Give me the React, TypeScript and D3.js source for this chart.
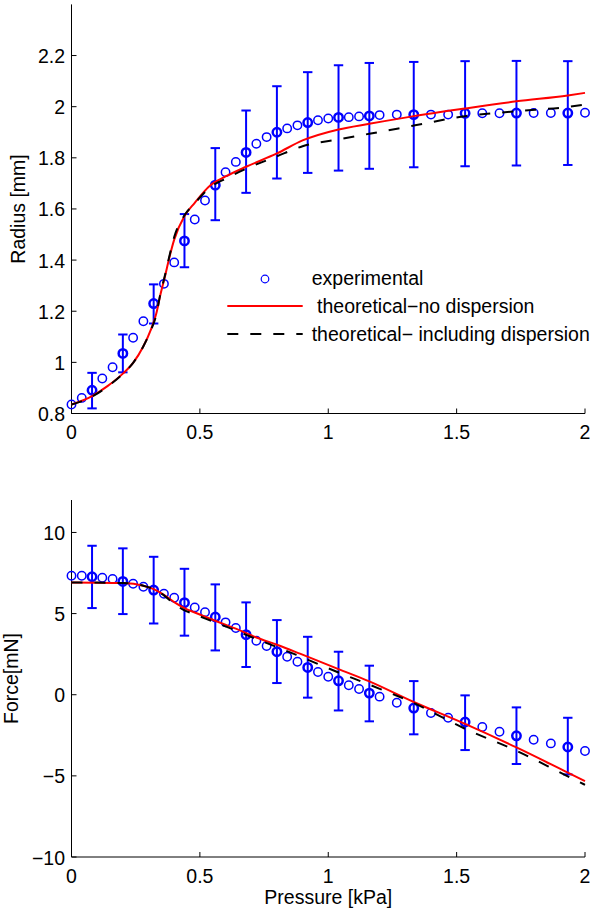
import React from "react";
import * as d3 from "d3";

// ---- data ----
const pressure = [0, 0.04, 0.08, 0.12, 0.16, 0.2, 0.24, 0.28, 0.32, 0.36, 0.4, 0.44, 0.48, 0.52, 0.56, 0.6, 0.64, 0.68, 0.72, 0.76, 0.8, 0.84, 0.88, 0.92, 0.96, 1, 1.04, 1.08, 1.12, 1.16, 1.2, 1.267, 1.333, 1.4, 1.467, 1.533, 1.6, 1.667, 1.733, 1.8, 1.867, 1.933, 2];
const radiusExp = [0.835, 0.861, 0.891, 0.937, 0.981, 1.035, 1.096, 1.161, 1.23, 1.307, 1.391, 1.475, 1.559, 1.633, 1.693, 1.744, 1.784, 1.821, 1.855, 1.881, 1.9, 1.915, 1.927, 1.938, 1.947, 1.954, 1.958, 1.959, 1.962, 1.964, 1.967, 1.969, 1.969, 1.969, 1.969, 1.974, 1.974, 1.974, 1.975, 1.975, 1.975, 1.975, 1.976];
const forceExp = [7.33, 7.33, 7.27, 7.21, 7.13, 6.98, 6.84, 6.65, 6.45, 6.22, 5.98, 5.67, 5.38, 5.09, 4.79, 4.46, 4.11, 3.7, 3.33, 3.0, 2.65, 2.34, 2.03, 1.68, 1.4, 1.11, 0.86, 0.58, 0.35, 0.1, -0.12, -0.49, -0.82, -1.13, -1.42, -1.68, -1.99, -2.28, -2.53, -2.77, -3.0, -3.22, -3.47];

const errPressure = [0.08, 0.2, 0.32, 0.44, 0.56, 0.68, 0.8, 0.92, 1.04, 1.16, 1.333, 1.533, 1.733, 1.933];
const radiusErrHigh = [0.959, 1.109, 1.305, 1.58, 1.838, 1.985, 2.08, 2.135, 2.162, 2.171, 2.175, 2.178, 2.179, 2.178];
const radiusErrLow = [0.82, 0.961, 1.152, 1.372, 1.556, 1.663, 1.719, 1.741, 1.75, 1.757, 1.763, 1.767, 1.77, 1.772];
const forceErrHigh = [9.18, 9.02, 8.5, 7.76, 6.8, 5.69, 4.6, 3.57, 2.65, 1.79, 0.84, -0.04, -0.78, -1.42];
const forceErrLow = [5.34, 4.97, 4.39, 3.64, 2.73, 1.71, 0.72, -0.18, -0.97, -1.64, -2.44, -3.41, -4.27, -4.91];

const radiusCurveX = [0, 0.08, 0.14, 0.2, 0.24, 0.28, 0.31, 0.33, 0.345, 0.365, 0.38, 0.4, 0.44, 0.48, 0.54, 0.6, 0.68, 0.8, 0.9, 1.04, 1.16, 1.333, 1.533, 1.733, 1.933, 2.0];
const radiusNoDisp = [0.835, 0.868, 0.907, 0.956, 0.998, 1.063, 1.13, 1.19, 1.259, 1.34, 1.405, 1.48, 1.572, 1.624, 1.692, 1.727, 1.765, 1.817, 1.868, 1.911, 1.933, 1.963, 1.993, 2.021, 2.044, 2.054];
const radiusDisp = [0.835, 0.866, 0.905, 0.955, 0.998, 1.063, 1.128, 1.185, 1.262, 1.345, 1.41, 1.49, 1.575, 1.622, 1.685, 1.718, 1.757, 1.806, 1.845, 1.872, 1.894, 1.926, 1.963, 1.982, 1.999, 2.008];

const forceCurveX = [0, 0.2, 0.28, 0.32, 0.36, 0.4, 0.44, 0.48, 0.56, 0.64, 0.72, 0.8, 0.89, 1.04, 1.16, 1.333, 1.533, 1.733, 1.933, 2.0];
const forceNoDisp = [6.92, 6.88, 6.72, 6.51, 6.16, 5.71, 5.34, 5.07, 4.56, 4.07, 3.53, 3.08, 2.53, 1.58, 0.82, -0.45, -1.8, -3.25, -4.8, -5.32];
const forceDisp = [6.92, 6.88, 6.72, 6.5, 6.12, 5.6, 5.2, 4.95, 4.46, 3.96, 3.43, 2.94, 2.36, 1.37, 0.62, -0.51, -2.1, -3.45, -5.03, -5.55];

const xTicks = [0, 0.5, 1, 1.5, 2];
const xTickLabels = ["0", "0.5", "1", "1.5", "2"];
const radiusTicks = [0.8, 1, 1.2, 1.4, 1.6, 1.8, 2, 2.2];
const radiusTickLabels = ["0.8", "1", "1.2", "1.4", "1.6", "1.8", "2", "2.2"];
const forceTicks = [-10, -5, 0, 5, 10];
const forceTickLabels = ["\u221210", "\u22125", "0", "5", "10"];

const legendLabels = ["experimental", " theoretical\u2212no dispersion", "theoretical\u2212 including dispersion"];

const FONT = "'Liberation Sans', Arial, Helvetica, sans-serif";
const FS = 19.5;
const BLUE = "#0000ff";
const RED = "#ff0000";
const DASH = "11 12";

const x = d3.scaleLinear().domain([0, 2]).range([71.5, 585]);
const yTop = d3.scaleLinear().domain([0.8, 2.4]).range([413.5, 4.4]);
const yBot = d3.scaleLinear().domain([-10, 12]).range([857, 500]);

type Scale = d3.ScaleLinear<number, number>;

function Panel({ y, exp, errHigh, errLow, cx, noDisp, disp, yTicks, yLabels, yLabel, yLabelX }: {
  y: Scale; exp: number[]; errHigh: number[]; errLow: number[]; cx: number[]; noDisp: number[]; disp: number[];
  yTicks: number[]; yLabels: string[]; yLabel: string; yLabelX: number;
}) {
  const [y0, y1] = y.range();
  const [x0, x1] = x.range();
  const line = d3.line<number>().x((_, i) => x(cx[i])).y((v) => y(v)).curve(d3.curveMonotoneX);
  const errSet = new Set(errPressure.map((p) => p.toFixed(3)));
  return (
    <g>
      {/* axes */}
      <line x1={x0} x2={x0} y1={y1} y2={y0} stroke="#000" strokeWidth={1} />
      <line x1={x0} x2={x1} y1={y0} y2={y0} stroke="#000" strokeWidth={1} />
      {xTicks.map((t, i) => (
        <g key={"xt" + i}>
          <line x1={x(t)} x2={x(t)} y1={y0} y2={y0 - 5} stroke="#000" strokeWidth={1} />
          <text x={x(t)} y={y0 + 25.5} textAnchor="middle" fontSize={FS} fontFamily={FONT}>{xTickLabels[i]}</text>
        </g>
      ))}
      {yTicks.map((t, i) => (
        <g key={"yt" + i}>
          <line x1={x0} x2={x0 + 5} y1={y(t)} y2={y(t)} stroke="#000" strokeWidth={1} />
          <text x={65} y={y(t) + 7.5} textAnchor="end" fontSize={FS} fontFamily={FONT}>{yLabels[i]}</text>
        </g>
      ))}
      <text transform={`translate(${yLabelX},${(y0 + y1) / 2}) rotate(-90)`} textAnchor="middle" fontSize={FS} fontFamily={FONT}>{yLabel}</text>
      {/* error bars */}
      {errPressure.map((p, i) => (
        <g key={"e" + i} stroke={BLUE} strokeWidth={2}>
          <line x1={x(p)} x2={x(p)} y1={y(errHigh[i])} y2={y(errLow[i])} />
          <line x1={x(p) - 4.7} x2={x(p) + 4.7} y1={y(errHigh[i])} y2={y(errHigh[i])} />
          <line x1={x(p) - 4.7} x2={x(p) + 4.7} y1={y(errLow[i])} y2={y(errLow[i])} />
        </g>
      ))}
      {/* experimental points */}
      {pressure.map((p, i) => (
        <circle key={"c" + i} cx={x(p)} cy={y(exp[i])} r={4.2} fill="none" stroke={BLUE}
          strokeWidth={errSet.has(p.toFixed(3)) ? 2.5 : 1.5} />
      ))}
      <path d={line(noDisp) || ""} fill="none" stroke={RED} strokeWidth={2} />
      <path d={line(disp) || ""} fill="none" stroke="#000" strokeWidth={2} strokeDasharray={DASH} />
    </g>
  );
}

export default function App() {
  return (
    <svg width={600} height={912} style={{ position: "absolute", left: 0, top: 0, background: "#fff" }}>
      <rect width={600} height={912} fill="#fff" />
      <Panel y={yTop} exp={radiusExp} errHigh={radiusErrHigh} errLow={radiusErrLow} cx={radiusCurveX}
        noDisp={radiusNoDisp} disp={radiusDisp} yTicks={radiusTicks} yLabels={radiusTickLabels}
        yLabel="Radius [mm]" yLabelX={24.5} />
      <Panel y={yBot} exp={forceExp} errHigh={forceErrHigh} errLow={forceErrLow} cx={forceCurveX}
        noDisp={forceNoDisp} disp={forceDisp} yTicks={forceTicks} yLabels={forceTickLabels}
        yLabel="Force[mN]" yLabelX={17.5} />
      <text x={328.3} y={904} textAnchor="middle" fontSize={FS} fontFamily={FONT}>Pressure [kPa]</text>
      {/* legend */}
      <circle cx={265} cy={279} r={3.8} fill="none" stroke={BLUE} strokeWidth={1.2} />
      <text x={311.7} y={285} fontSize={FS} fontFamily={FONT} style={{ whiteSpace: "pre" }}>{legendLabels[0]}</text>
      <line x1={227.3} x2={302.7} y1={306} y2={306} stroke={RED} strokeWidth={2} />
      <text x={311.7} y={313.3} fontSize={FS} fontFamily={FONT} style={{ whiteSpace: "pre" }}>{legendLabels[1]}</text>
      <line x1={227.3} x2={302.7} y1={334} y2={334} stroke="#000" strokeWidth={2} strokeDasharray={DASH} />
      <text x={311.7} y={341} fontSize={FS} fontFamily={FONT}>{legendLabels[2]}</text>
    </svg>
  );
}
